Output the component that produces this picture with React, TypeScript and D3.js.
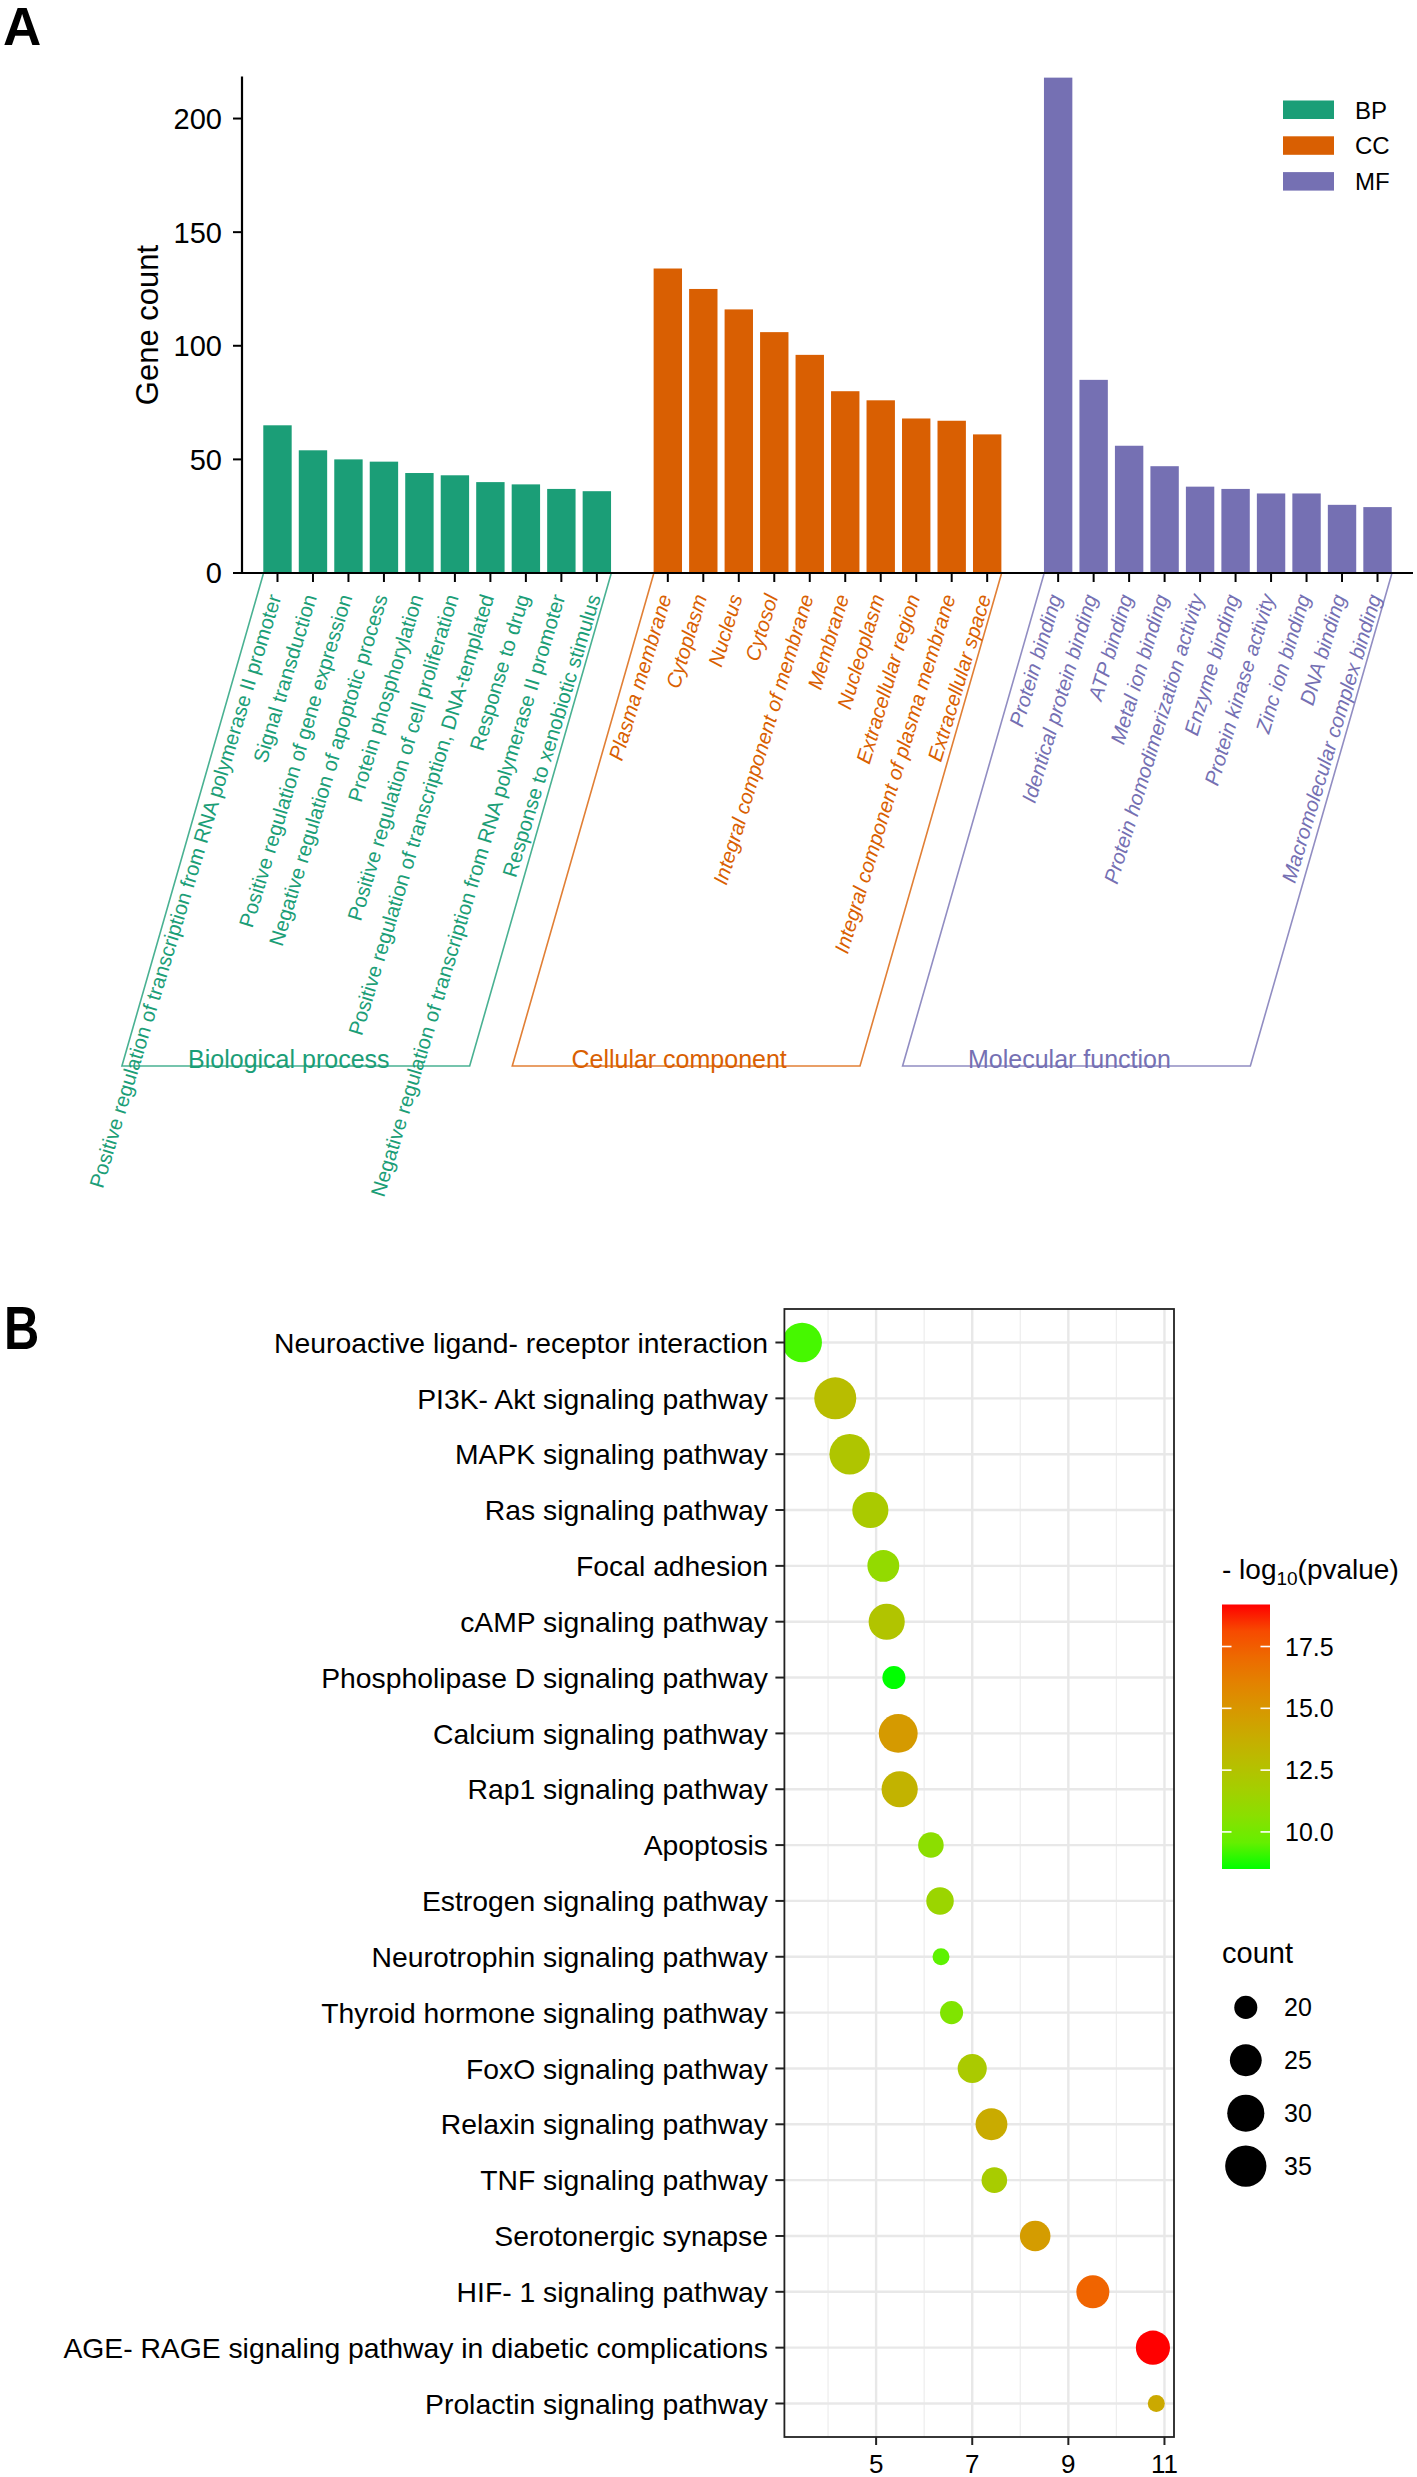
import React from "react";
import * as d3 from "d3";

// ---------- Panel A data ----------
const BP_TERMS = [
  "Positive regulation of transcription from RNA polymerase II promoter",
  "Signal transduction",
  "Positive regulation of gene expression",
  "Negative regulation of apoptotic process",
  "Protein phosphorylation",
  "Positive regulation of cell proliferation",
  "Positive regulation of transcription, DNA-templated",
  "Response to drug",
  "Negative regulation of transcription from RNA polymerase II promoter",
  "Response to xenobiotic stimulus",
];
const BP_COUNTS = [65, 54, 50, 49, 44, 43, 40, 39, 37, 36];

const CC_TERMS = [
  "Plasma membrane",
  "Cytoplasm",
  "Nucleus",
  "Cytosol",
  "Integral component of membrane",
  "Membrane",
  "Nucleoplasm",
  "Extracellular region",
  "Integral component of plasma membrane",
  "Extracellular space",
];
const CC_COUNTS = [134, 125, 116, 106, 96, 80, 76, 68, 67, 61];

const MF_TERMS = [
  "Protein binding",
  "Identical protein binding",
  "ATP binding",
  "Metal ion binding",
  "Protein homodimerization activity",
  "Enzyme binding",
  "Protein kinase activity",
  "Zinc ion binding",
  "DNA binding",
  "Macromolecular complex binding",
];
const MF_COUNTS = [218, 85, 56, 47, 38, 37, 35, 35, 30, 29];

const GROUP_KEYS = ["BP", "CC", "MF"];
const GROUP_NAMES = ["Biological process", "Cellular component", "Molecular function"];
const GROUP_COLORS = ["#1B9E77", "#D95F02", "#7570B3"];
const Y_TICKS_A = [0, 50, 100, 150, 200];

// ---------- Panel B data ----------
const PATHWAYS = [
  "Neuroactive ligand- receptor interaction",
  "PI3K- Akt signaling pathway",
  "MAPK signaling pathway",
  "Ras signaling pathway",
  "Focal adhesion",
  "cAMP signaling pathway",
  "Phospholipase D signaling pathway",
  "Calcium signaling pathway",
  "Rap1 signaling pathway",
  "Apoptosis",
  "Estrogen signaling pathway",
  "Neurotrophin signaling pathway",
  "Thyroid hormone signaling pathway",
  "FoxO signaling pathway",
  "Relaxin signaling pathway",
  "TNF signaling pathway",
  "Serotonergic synapse",
  "HIF- 1 signaling pathway",
  "AGE- RAGE signaling pathway in diabetic complications",
  "Prolactin signaling pathway",
];
const PATH_X = [3.46, 4.15, 4.45, 4.88, 5.15, 5.22, 5.37, 5.46, 5.49, 6.14, 6.33, 6.35, 6.57, 7.0, 7.4, 7.46, 8.31, 9.51, 10.76, 10.83];
const PATH_NLP = [9.0, 12.8, 12.3, 12.0, 11.0, 12.4, 8.5, 14.8, 13.4, 10.7, 11.3, 9.4, 10.3, 12.0, 13.9, 11.9, 14.7, 17.3, 19.2, 14.0];
const PATH_COUNT = [33, 36, 34, 29, 25, 29, 20, 32, 29, 21, 22, 19, 20, 23, 25, 21, 24, 26, 27, 19];
const X_TICKS_B = [5, 7, 9, 11];
const X_MINOR_B = [4, 6, 8, 10];
const COLOR_TICKS = [10, 12.5, 15, 17.5];
const SIZE_BREAKS = [20, 25, 30, 35];

const FONT = "'Liberation Sans', Arial, Helvetica, sans-serif";

function PanelA() {
  const left = 242, right = 1413, top = 76.5, bottom = 573;
  const groups = [
    { terms: BP_TERMS, counts: BP_COUNTS },
    { terms: CC_TERMS, counts: CC_COUNTS },
    { terms: MF_TERMS, counts: MF_COUNTS },
  ];
  const keys: string[] = [];
  groups.forEach((g, gi) => {
    g.terms.forEach((t) => keys.push(GROUP_KEYS[gi] + "|" + t));
    if (gi < groups.length - 1) keys.push("gap" + gi);
  });
  const x = d3.scalePoint<string>().domain(keys).range([left, right]).padding(1);
  const step = x.step();
  const bw = step * 0.8;
  const y = d3.scaleLinear().domain([0, 218.5]).range([bottom, top]);
  const angle = 73.2;
  const labelY = 597;
  const bracketBottom = 1066;
  const bracketAngle = 74;
  const shift = (bracketBottom - bottom) / Math.tan((bracketAngle * Math.PI) / 180);

  return (
    <g>
      <text x={3} y={45} fontSize={53} fontWeight="bold" fontFamily={FONT}>A</text>
      {/* bars */}
      {groups.map((g, gi) =>
        g.terms.map((t, i) => {
          const cx = x(GROUP_KEYS[gi] + "|" + t)!;
          return (
            <rect key={gi + "-" + i} x={cx - bw / 2} y={y(g.counts[i])} width={bw}
              height={y(0) - y(g.counts[i])} fill={GROUP_COLORS[gi]} />
          );
        })
      )}
      {/* axes */}
      <line x1={left} x2={left} y1={top} y2={bottom} stroke="#000" strokeWidth={2.2} />
      <line x1={left - 1} x2={right} y1={bottom} y2={bottom} stroke="#000" strokeWidth={2.2} />
      {Y_TICKS_A.map((v) => (
        <g key={v}>
          <line x1={left - 9} x2={left} y1={y(v)} y2={y(v)} stroke="#000" strokeWidth={2} />
          <text x={left - 20} y={y(v)} dy="0.36em" textAnchor="end" fontSize={29} fontFamily={FONT}>{v}</text>
        </g>
      ))}
      <text transform={`translate(158, 325) rotate(-90)`} textAnchor="middle" fontSize={31} fontFamily={FONT}>Gene count</text>
      {/* x ticks and labels */}
      {groups.map((g, gi) =>
        g.terms.map((t, i) => {
          const cx = x(GROUP_KEYS[gi] + "|" + t)!;
          return (
            <g key={"t" + gi + "-" + i}>
              <line x1={cx} x2={cx} y1={bottom} y2={bottom + 9} stroke="#000" strokeWidth={2} />
              <text transform={`translate(${cx + 4}, ${labelY}) rotate(${-angle})`} textAnchor="end"
                fontSize={20.5} fontFamily={FONT} fill={GROUP_COLORS[gi]}
                fontStyle={gi === 0 ? "normal" : "italic"}>{t}</text>
            </g>
          );
        })
      )}
      {/* brackets */}
      {groups.map((g, gi) => {
        const x0 = x(GROUP_KEYS[gi] + "|" + g.terms[0])! - bw / 2;
        const x1 = x(GROUP_KEYS[gi] + "|" + g.terms[g.terms.length - 1])! + bw / 2;
        const pts = [
          [x0, bottom + 1],
          [x0 - shift, bracketBottom],
          [x1 - shift, bracketBottom],
          [x1, bottom + 1],
        ];
        const cx = (x0 + x1) / 2 - shift - 7;
        return (
          <g key={"b" + gi}>
            <polyline points={pts.map((p) => p.join(",")).join(" ")} fill="none"
              stroke={GROUP_COLORS[gi]} strokeOpacity={0.8} strokeWidth={1.6} />
            <text x={cx} y={bracketBottom + 2} textAnchor="middle" fontSize={25} fontFamily={FONT}
              fill={GROUP_COLORS[gi]}>{GROUP_NAMES[gi]}</text>
          </g>
        );
      })}
      {/* legend */}
      {GROUP_KEYS.map((k, i) => (
        <g key={k}>
          <rect x={1283} y={100.5 + i * 35.8} width={51} height={18.5} fill={GROUP_COLORS[i]} />
          <text x={1355} y={110 + i * 35.8} dy="0.36em" fontSize={24} fontFamily={FONT}>{k}</text>
        </g>
      ))}
    </g>
  );
}

function PanelB() {
  const left = 784.4, right = 1174, top = 1309, bottom = 2437;
  const [xmin, xmax] = d3.extent(PATH_X) as [number, number];
  const pad = (xmax - xmin) * 0.05;
  const x = d3.scaleLinear().domain([xmin - pad, xmax + pad]).range([left, right]);
  const y = d3.scalePoint<string>().domain(PATHWAYS).range([top, bottom]).padding(0.6);
  const [pmin, pmax] = d3.extent(PATH_NLP) as [number, number];
  const color = d3.scaleLinear<string>().domain([pmin, pmax]).range(["#00ff00", "#ff0000"]).interpolate(d3.interpolateLab);
  const [cmin, cmax] = d3.extent(PATH_COUNT) as [number, number];
  const norm = d3.scaleLinear().domain([cmin, cmax]).range([0, 1]).clamp(true);
  const rMin = 8.5, rMax = 21;
  const r = (c: number) => rMin + (rMax - rMin) * Math.sqrt(norm(c));

  const cbX = 1222, cbW = 48, cbTop = 1604.5, cbBottom = 1869;
  const cbScale = d3.scaleLinear().domain([pmin, pmax]).range([cbBottom, cbTop]);
  const gradStops = d3.range(0, 1.0001, 0.1);

  return (
    <g>
      <text transform="translate(4, 1349) scale(0.8, 1)" fontSize={61} fontWeight="bold" fontFamily={FONT}>B</text>
      <defs>
        <linearGradient id="cbgrad" x1="0" y1="1" x2="0" y2="0">
          {gradStops.map((t) => (
            <stop key={t} offset={t} stopColor={color(pmin + t * (pmax - pmin))} />
          ))}
        </linearGradient>
        <clipPath id="panelB">
          <rect x={left} y={top} width={right - left} height={bottom - top} />
        </clipPath>
      </defs>
      <rect x={left} y={top} width={right - left} height={bottom - top} fill="#fff" />
      {/* grid */}
      {X_MINOR_B.map((v) => (
        <line key={"mn" + v} x1={x(v)} x2={x(v)} y1={top} y2={bottom} stroke="#eeeeee" strokeWidth={1.3} />
      ))}
      {X_TICKS_B.map((v) => (
        <line key={"mj" + v} x1={x(v)} x2={x(v)} y1={top} y2={bottom} stroke="#e8e8e8" strokeWidth={2.4} />
      ))}
      {PATHWAYS.map((p) => (
        <line key={"h" + p} x1={left} x2={right} y1={y(p)} y2={y(p)} stroke="#e8e8e8" strokeWidth={2.4} />
      ))}
      {/* points */}
      <g clipPath="url(#panelB)">
        {PATHWAYS.map((p, i) => (
          <circle key={"c" + p} cx={x(PATH_X[i])} cy={y(p)} r={r(PATH_COUNT[i])} fill={color(PATH_NLP[i])} />
        ))}
      </g>
      <rect x={left} y={top} width={right - left} height={bottom - top} fill="none" stroke="#222" strokeWidth={1.8} />
      {/* y axis */}
      {PATHWAYS.map((p) => (
        <g key={"yl" + p}>
          <line x1={left - 9} x2={left} y1={y(p)} y2={y(p)} stroke="#222" strokeWidth={2} />
          <text x={768} y={y(p)} dy="0.36em" textAnchor="end" fontSize={28.3} fontFamily={FONT}>{p}</text>
        </g>
      ))}
      {/* x axis */}
      {X_TICKS_B.map((v) => (
        <g key={"xt" + v}>
          <line x1={x(v)} x2={x(v)} y1={bottom} y2={bottom + 8} stroke="#222" strokeWidth={2} />
          <text x={x(v)} y={2473} textAnchor="middle" fontSize={26} fontFamily={FONT}>{v}</text>
        </g>
      ))}
      {/* colour legend */}
      <text x={1222} y={1578.5} fontSize={28} fontFamily={FONT}>
        - log<tspan fontSize={19} dy={6}>10</tspan><tspan dy={-6}>(pvalue)</tspan>
      </text>
      <rect x={cbX} y={cbTop} width={cbW} height={cbBottom - cbTop} fill="url(#cbgrad)" />
      {COLOR_TICKS.map((v) => (
        <g key={"cb" + v}>
          <line x1={cbX} x2={cbX + 9.5} y1={cbScale(v)} y2={cbScale(v)} stroke="#fff" strokeWidth={1.6} />
          <line x1={cbX + cbW - 9.5} x2={cbX + cbW} y1={cbScale(v)} y2={cbScale(v)} stroke="#fff" strokeWidth={1.6} />
          <text x={1285} y={cbScale(v)} dy="0.36em" fontSize={25} fontFamily={FONT}>{v.toFixed(1)}</text>
        </g>
      ))}
      {/* size legend */}
      <text x={1222} y={1963} fontSize={29} fontFamily={FONT}>count</text>
      {SIZE_BREAKS.map((v, i) => (
        <g key={"sz" + v}>
          <circle cx={1245.8} cy={2007.4 + i * 52.9} r={r(v)} fill="#000" />
          <text x={1284} y={2007.4 + i * 52.9} dy="0.36em" fontSize={25} fontFamily={FONT}>{v}</text>
        </g>
      ))}
    </g>
  );
}

export default function App() {
  return (
    <svg width={1417} height={2477} viewBox="0 0 1417 2477"
      style={{ position: "absolute", left: 0, top: 0, background: "#fff" }}>
      <rect width={1417} height={2477} fill="#fff" />
      <PanelA />
      <PanelB />
    </svg>
  );
}
